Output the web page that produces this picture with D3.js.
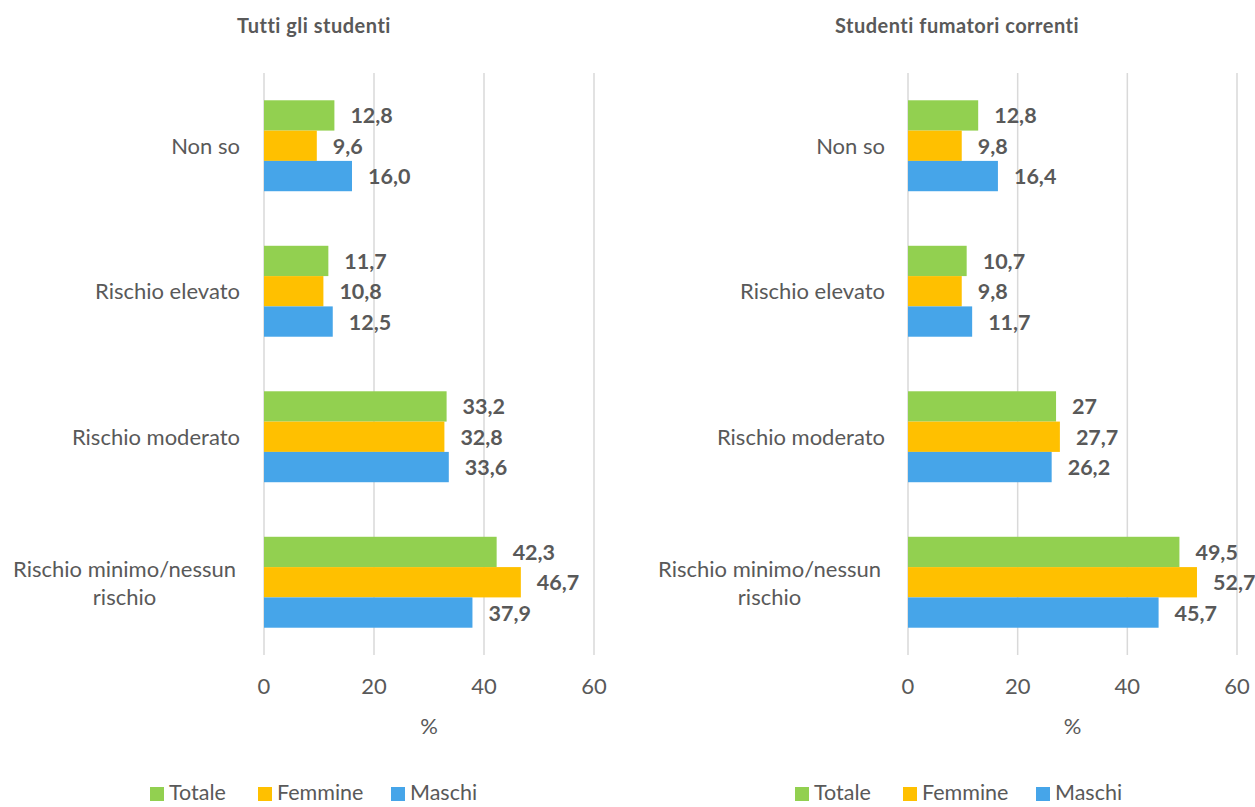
<!DOCTYPE html>
<html><head><meta charset="utf-8">
<script src="https://cdn.jsdelivr.net/npm/d3@7"></script>
<style>body{margin:0;background:#fff}svg{display:block}</style>
</head><body>
<svg id="c" width="1255" height="807"></svg>
<script>
const categories = ["Non so", "Rischio elevato", "Rischio moderato", "Rischio minimo/nessun rischio"];
const seriesNames = ["Totale", "Femmine", "Maschi"];
const colors = ["#92D050", "#FFC000", "#46A5E9"];
const panelTitles = ["Tutti gli studenti", "Studenti fumatori correnti"];
// values per panel: [Totale, Femmine, Maschi] per category
const allTotale = [12.8, 11.7, 33.2, 42.3];
const allFemmine = [9.6, 10.8, 32.8, 46.7];
const allMaschi = [16.0, 12.5, 33.6, 37.9];
const smokTotale = [12.8, 10.7, 27, 49.5];
const smokFemmine = [9.8, 9.8, 27.7, 52.7];
const smokMaschi = [16.4, 11.7, 26.2, 45.7];
const allLabels = ["12,8","9,6","16,0","11,7","10,8","12,5","33,2","32,8","33,6","42,3","46,7","37,9"];
const smokLabels = ["12,8","9,8","16,4","10,7","9,8","11,7","27","27,7","26,2","49,5","52,7","45,7"];
const xTicks = [0, 20, 40, 60];
const axisTitle = "%";

const font = "Lato, 'Open Sans', sans-serif";
const txt = "#595959";
const fs = 22;
const svg = d3.select("#c");

const panels = [
  {title: panelTitles[0], data: [allTotale, allFemmine, allMaschi], labels: allLabels, x0: 264, x1: 594, titleX: 314, catX: 240, legendX: 150},
  {title: panelTitles[1], data: [smokTotale, smokFemmine, smokMaschi], labels: smokLabels, x0: 908, x1: 1237, titleX: 957, catX: 885, legendX: 795}
];

panels.forEach(p => {
  const g = svg.append("g");
  const x = d3.scaleLinear().domain([0, 60]).range([p.x0, p.x1]);
  const y = d3.scaleBand().domain(categories).range([73, 655]).paddingInner(0.375).paddingOuter(0.1875);
  const ys = d3.scaleBand().domain(seriesNames).range([0, y.bandwidth()]);

  // gridlines
  g.selectAll("line.grid").data(xTicks).join("line")
    .attr("x1", d => x(d)).attr("x2", d => x(d))
    .attr("y1", 73).attr("y2", 655)
    .attr("stroke", "#d9d9d9").attr("stroke-width", 1.5);

  // title
  g.append("text").attr("x", p.titleX).attr("y", 33).attr("text-anchor", "middle")
    .attr("font-family", font).attr("font-weight", "bold").attr("font-size", 20)
    .attr("letter-spacing", 0.5)
    .attr("fill", txt).text(p.title);

  // bars
  categories.forEach((c, ci) => {
    seriesNames.forEach((s, si) => {
      const v = p.data[si][ci];
      const by = y(c) + ys(s);
      g.append("rect").attr("x", x(0)).attr("y", by)
        .attr("width", x(v) - x(0)).attr("height", ys.bandwidth())
        .attr("fill", colors[si]);
      g.append("text").attr("x", x(v) + 16).attr("y", by + ys.bandwidth() / 2 + 8)
        .attr("font-family", font).attr("font-weight", "bold").attr("font-size", 21.5)
        .attr("fill", txt).text(p.labels[ci * 3 + si]);
    });
    // category label
    const cy = y(c) + y.bandwidth() / 2;
    if (c.indexOf("/") >= 0) {
      const lines = ["Rischio minimo/nessun", "rischio"];
      const t = g.append("text").attr("font-family", font).attr("font-size", fs).attr("fill", txt)
        .attr("text-anchor", "middle");
      const tmp = g.append("text").attr("font-family", font).attr("font-size", fs).text(lines[0]);
      const w = tmp.node().getComputedTextLength(); tmp.remove();
      const cx = p.catX - 4 - w / 2;
      lines.forEach((l, li) => {
        t.append("tspan").attr("x", cx).attr("y", cy - 5 + li * 28).text(l);
      });
    } else {
      g.append("text").attr("x", p.catX).attr("y", cy + 8).attr("text-anchor", "end")
        .attr("font-family", font).attr("font-size", fs).attr("fill", txt).text(c);
    }
  });

  // x axis tick labels
  g.selectAll("text.tick").data(xTicks).join("text")
    .attr("x", d => x(d)).attr("y", 694).attr("text-anchor", "middle")
    .attr("font-family", font).attr("font-size", fs).attr("fill", txt).text(d => d);
  g.append("text").attr("x", (p.x0 + p.x1) / 2).attr("y", 734).attr("text-anchor", "middle")
    .attr("font-family", font).attr("font-size", fs).attr("fill", txt).text(axisTitle);

  // legend
  const legOffsets = [0, 108, 241];
  seriesNames.forEach((s, si) => {
    const lx = p.legendX + legOffsets[si];
    g.append("rect").attr("x", lx).attr("y", 787).attr("width", 14).attr("height", 14).attr("fill", colors[si]);
    g.append("text").attr("x", lx + 19).attr("y", 800).attr("font-family", font).attr("font-size", 21.5)
      .attr("fill", txt).text(s);
  });
});
</script>
</body></html>
